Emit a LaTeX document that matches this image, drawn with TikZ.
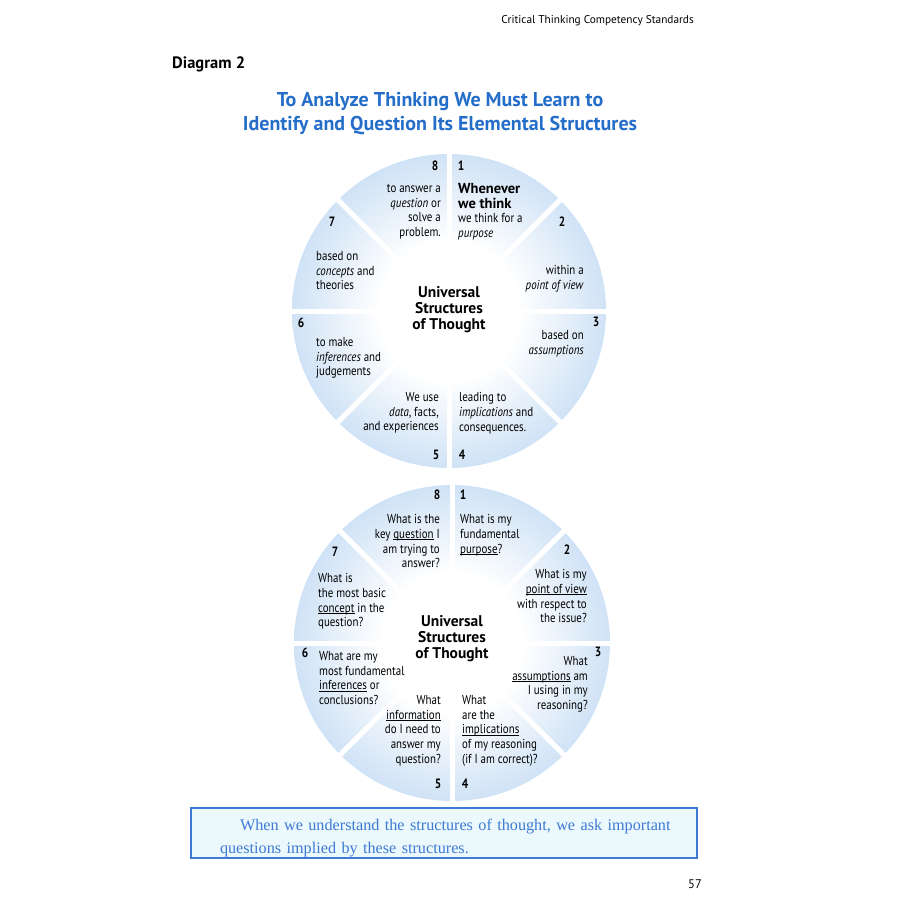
\documentclass[tikz,border=0pt]{standalone}
\usepackage{fontspec}
\setmainfont{PT Sans}[FakeStretch=0.84]
\newfontfamily\plainfont{PT Sans}
\newfontfamily\notefont{Liberation Serif}
\usetikzlibrary{positioning}

\definecolor{rimblue}{RGB}{126,176,229}
\definecolor{midblue}{RGB}{184,212,241}
\definecolor{titleblue}{RGB}{36,110,202}
\definecolor{noteblue}{RGB}{62,122,212}
\definecolor{notefill}{RGB}{235,248,252}
\pgfdeclareradialshading{wheelshade}{\pgfpoint{0bp}{0bp}}{color(0bp)=(white); color(11bp)=(white); color(32bp)=(midblue); color(50bp)=(rimblue)}
\newcommand{\hd}{\plainfont\bfseries\fontsize{14.5}{14.8}\selectfont}
\newcommand{\ulw}[1]{\setbox0\hbox{#1}\rlap{\rule[-1.9pt]{\wd0}{0.7pt}}\box0\relax}

\begin{document}
\begin{tikzpicture}[
    x=1pt, y=-1pt,
    wheel/.style={circle, inner sep=0pt, shading=wheelshade},
    gap/.style={draw=white, line width=5pt},
    num/.style={inner sep=0pt, font=\fontsize{13.5}{15}\selectfont\bfseries},
    lt/.style={anchor=north west, align=left, inner sep=0pt, font=\fontsize{13}{14.8}\selectfont},
    rt/.style={anchor=north east, align=right, inner sep=0pt, font=\fontsize{13}{14.8}\selectfont},
    hub/.style={align=center, inner sep=0pt, font=\plainfont\bfseries\fontsize{15.5}{16}\selectfont},
    notebox/.style={draw=noteblue, line width=1.5pt, fill=notefill, minimum width=506pt, minimum height=50pt},
    notetext/.style={text=noteblue, text width=460pt, align=left, inner sep=0pt, font=\notefont\fontsize{16.2}{23}\selectfont}
]
\fill[white] (0,0) rectangle (900,900);
\useasboundingbox (0,0) rectangle (900,900);

% Page heading
\node[anchor=east, inner sep=0pt, font=\plainfont\fontsize{11.3}{13}\selectfont] (running) at (694,21) {Critical Thinking Competency Standards};
\node[anchor=west, inner sep=0pt, font=\plainfont\bfseries\fontsize{16.5}{18}\selectfont] (diag) at (172,64) {Diagram 2};
\node[align=center, inner sep=0pt, text=titleblue, font=\plainfont\bfseries\fontsize{20}{24}\selectfont] (title) at (440,114) {To Analyze Thinking We Must Learn to\\Identify and Question Its Elemental Structures};

% Top wheel
\node[wheel, minimum size=314pt] (wtop) at (449,311) {};
\foreach \a in {0,45,...,315}
  \draw[gap] (wtop.center) -- (wtop.\a);
\node[hub] (htop) at (449,310) {Universal\\Structures\\of Thought};

\node[num] (t8) at (435,166) {8};
\node[num] (t1) at (461,166) {1};
\node[num] (t2) at (562,222) {2};
\node[num] (t3) at (596,322) {3};
\node[num] (t4) at (462,455) {4};
\node[num] (t5) at (436,455) {5};
\node[num] (t6) at (301,323) {6};
\node[num] (t7) at (332,222) {7};

\node[rt] (s8) at (441,184) {to answer a\\\textit{question} or\\solve a\\problem.};
\node[lt] (s1) at (458,183) {\hd Whenever\\\hd we think\\we think for a\\\textit{purpose}};
\node[rt] (s2) at (584,265) {within a\\\textit{point of view}};
\node[rt] (s3) at (584,330) {based on\\\textit{assumptions}};
\node[lt] (s4) at (459,392) {leading to\\\textit{implications} and\\consequences.};
\node[rt] (s5) at (439,392) {We use\\\textit{data}, facts,\\and experiences};
\node[lt] (s6) at (316,337) {to make\\\textit{inferences} and\\judgements};
\node[lt] (s7) at (316,251) {based on\\\textit{concepts} and\\theories};

% Bottom wheel
\node[wheel, minimum size=316pt] (wbot) at (452,643) {};
\foreach \a in {0,45,...,315}
  \draw[gap] (wbot.center) -- (wbot.\a);
\node[hub] (hbot) at (452,639) {Universal\\Structures\\of Thought};

\node[num] (b8) at (437,495) {8};
\node[num] (b1) at (463,495) {1};
\node[num] (b2) at (567,550) {2};
\node[num] (b3) at (598,652) {3};
\node[num] (b4) at (465,784) {4};
\node[num] (b5) at (438,784) {5};
\node[num] (b6) at (305,653) {6};
\node[num] (b7) at (335,552) {7};

\node[rt] (q8) at (440,514) {What is the\\key \ulw{question} I\\am trying to\\answer?};
\node[lt] (q1) at (460,514) {What is my\\fundamental\\\ulw{purpose}?};
\node[rt] (q2) at (587,569) {What is my\\\ulw{point of view}\\with respect to\\the issue?};
\node[rt] (q3) at (588,656) {What\\\ulw{assumptions} am\\I using in my\\reasoning?};
\node[lt] (q4) at (462,695) {What\\are the\\\ulw{implications}\\of my reasoning\\(if I am correct)?};
\node[rt] (q5) at (441,695) {What\\\ulw{information}\\do I need to\\answer my\\question?};
\node[lt] (q6) at (319,651) {What are my\\most fundamental\\\ulw{inferences} or\\conclusions?};
\node[lt] (q7) at (318,573) {What is\\the most basic\\\ulw{concept} in the\\question?};

% Note and folio
\node[notebox] (note) at (444,833) {};
\node[notetext] (notetxt) at (450,838) {\noindent\hspace*{20pt}When we understand the structures of thought, we ask important\\questions implied by these structures.};
\node[inner sep=0pt, font=\plainfont\fontsize{12.5}{14}\selectfont] (folio) at (695,884) {57};

\end{tikzpicture}
\end{document}
